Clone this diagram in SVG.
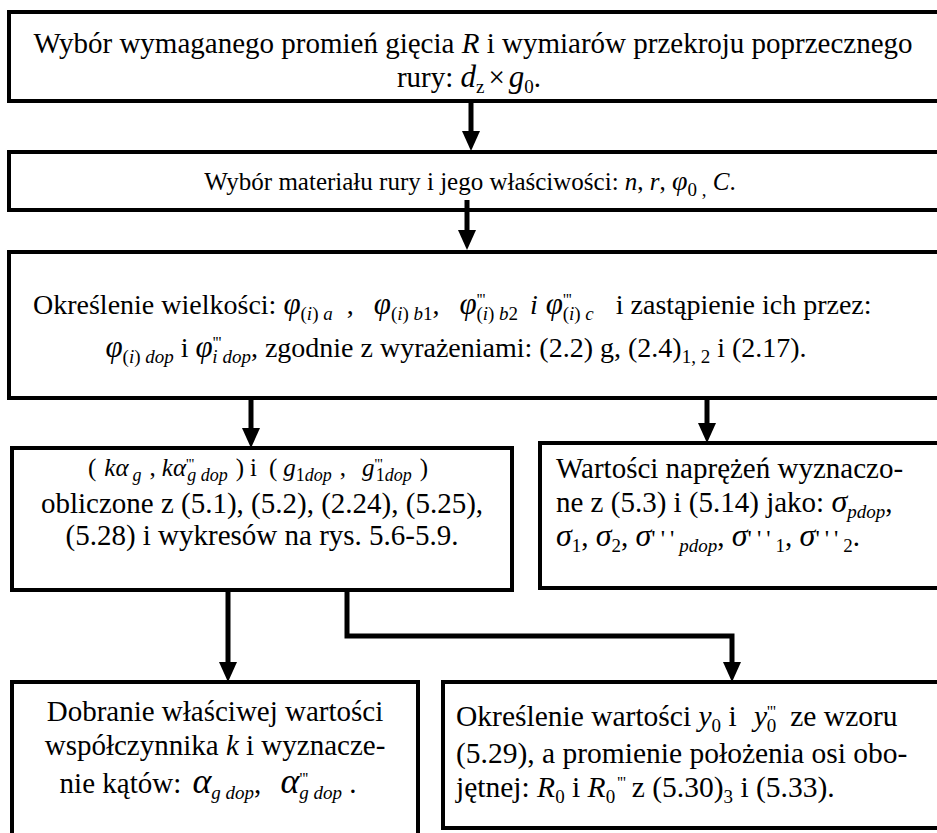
<svg xmlns="http://www.w3.org/2000/svg" width="937" height="833" viewBox="0 0 937 833">
<style>
.box{fill:#fff;stroke:#000;stroke-width:4}
.t{font-family:"Liberation Serif","Times New Roman",serif;font-size:28px;fill:#000}
.t29{font-size:29px}
.t24{font-size:25px}
.t30{font-size:29.5px}
.m{font-size:25px}
.it{font-style:italic}
.g{font-size:31px;font-style:italic}
.gs{font-size:32px;font-style:italic}
.sub{font-size:19px;baseline-shift:-6px}
.sup{font-size:16px;baseline-shift:9px}
.sub2{font-size:18px;baseline-shift:-5px}
.sup2{font-size:15px;baseline-shift:7px}
.pr{font-size:24px;letter-spacing:5px}
.big{font-size:36px}
.cn{fill:none;stroke:#000;stroke-width:5}
</style>
<defs>
<marker id="ah" markerUnits="userSpaceOnUse" markerWidth="20" markerHeight="18" viewBox="0 0 20 18" refX="0" refY="9" orient="auto">
<path d="M0,0 L20,9 L0,18 z" fill="#000"/>
</marker>
</defs>
<rect width="937" height="833" fill="#fff"/>

<g id="n1">
<rect class="box" x="9" y="12" width="940" height="89"/>
<text class="t t29" x="473" y="53" text-anchor="middle">Wybór wymaganego promień gięcia <tspan class="it">R</tspan> i wymiarów przekroju poprzecznego</text>
<text class="t t29" x="469" y="87" text-anchor="middle">rury: <tspan class="it" font-size="31">d</tspan><tspan class="sub">z</tspan><tspan dx="4">×</tspan><tspan class="it" dx="4" font-size="31">g</tspan><tspan class="sub">0</tspan>.</text>
</g>

<g id="n2">
<rect class="box" x="9" y="152" width="940" height="58"/>
<text class="t t24" x="470" y="190" text-anchor="middle">Wybór materiału rury i jego właściwości: <tspan class="it">n</tspan>, <tspan class="it">r</tspan>, <tspan class="it" font-size="28">φ</tspan><tspan class="sub" font-size="17">0 ,</tspan> <tspan class="it">C</tspan>.</text>
</g>

<g id="n3">
<rect class="box" x="9" y="252" width="940" height="146"/>
<text class="t" x="33" y="314">Określenie wielkości: <tspan class="g">φ</tspan><tspan class="sub">(<tspan class="it">i</tspan>) <tspan class="it">a</tspan></tspan><tspan dx="14">,</tspan><tspan class="g" dx="20">φ</tspan><tspan class="sub">(<tspan class="it">i</tspan>) <tspan class="it">b</tspan>1</tspan>,<tspan class="g" dx="20">φ</tspan><tspan class="sup">'''</tspan><tspan class="sub" dx="-9">(<tspan class="it">i</tspan>) <tspan class="it">b</tspan>2</tspan><tspan class="it" dx="12">i</tspan><tspan class="g" dx="8">φ</tspan><tspan class="sup">'''</tspan><tspan class="sub" dx="-9">(<tspan class="it">i</tspan>) <tspan class="it">c</tspan></tspan><tspan dx="22">i zastąpienie ich przez:</tspan></text>
<text class="t" x="456" y="357" text-anchor="middle"><tspan class="g">φ</tspan><tspan class="sub">(<tspan class="it">i</tspan>) <tspan class="it">dop</tspan></tspan> i <tspan class="g">φ</tspan><tspan class="sup">'''</tspan><tspan class="sub it" dx="-9">i dop</tspan>, zgodnie z wyrażeniami: (2.2) g, (2.4)<tspan class="sub">1, 2</tspan> i (2.17).</text>
</g>

<g id="n4">
<rect class="box" x="12" y="448" width="500" height="142"/>
<text class="t m" x="258" y="476" text-anchor="middle">(<tspan class="it" dx="8">kα</tspan><tspan class="sub2 it" dx="4">g</tspan><tspan dx="8">,</tspan><tspan class="it" dx="6">kα</tspan><tspan class="sup2">'''</tspan><tspan class="sub2 it" dx="-7">g dop</tspan><tspan dx="8">)</tspan><tspan dx="6">i</tspan><tspan dx="12">(</tspan><tspan class="it" dx="6">g</tspan><tspan class="sub2">1<tspan class="it">dop</tspan></tspan><tspan dx="8">,</tspan><tspan class="it" dx="16">g</tspan><tspan class="sup2">'''</tspan><tspan class="sub2" dx="-7">1<tspan class="it">dop</tspan></tspan><tspan dx="8">)</tspan></text>
<text class="t t29" x="262" y="513" text-anchor="middle">obliczone z (5.1), (5.2), (2.24), (5.25),</text>
<text class="t t29" x="262" y="545" text-anchor="middle">(5.28) i wykresów na rys. 5.6-5.9.</text>
</g>

<g id="n5">
<rect class="box" x="540" y="443" width="400" height="145"/>
<text class="t t29" x="556" y="478">Wartości naprężeń wyznaczo-</text>
<text class="t t29" x="556" y="512">ne z (5.3) i (5.14) jako: <tspan class="gs">σ</tspan><tspan class="sub it">pdop</tspan>,</text>
<text class="t t29" x="556" y="546"><tspan class="gs">σ</tspan><tspan class="sub">1</tspan>, <tspan class="gs">σ</tspan><tspan class="sub">2</tspan>, <tspan class="gs">σ</tspan><tspan class="pr">'''</tspan><tspan class="sub it">pdop</tspan>, <tspan class="gs">σ</tspan><tspan class="pr">'''</tspan><tspan class="sub">1</tspan>, <tspan class="gs">σ</tspan><tspan class="pr">'''</tspan><tspan class="sub">2</tspan>.</text>
</g>

<g id="n6">
<rect class="box" x="12" y="682" width="406" height="170"/>
<text class="t t29" x="215" y="721" text-anchor="middle">Dobranie właściwej wartości</text>
<text class="t t29" x="215" y="755" text-anchor="middle">współczynnika <tspan class="it">k</tspan> i wyznacze-</text>
<text class="t t29" x="208" y="793" text-anchor="middle">nie kątów: <tspan class="it big" dx="4">α</tspan><tspan class="sub it">g dop</tspan>, <tspan class="it big" dx="12">α</tspan><tspan class="sup">'''</tspan><tspan class="sub it" dx="-9">g dop</tspan> .</text>
</g>

<g id="n7">
<rect class="box" x="443" y="682" width="497" height="146"/>
<text class="t t30" x="456" y="726">Określenie wartości <tspan class="it">y</tspan><tspan class="sub">0</tspan> i <tspan class="it" dx="10">y</tspan><tspan class="sup">'''</tspan><tspan class="sub" dx="-9">0</tspan><tspan dx="14">ze wzoru</tspan></text>
<text class="t t30" x="456" y="763">(5.29), a promienie położenia osi obo-</text>
<text class="t t30" x="456" y="797">jętnej: <tspan class="it">R</tspan><tspan class="sub">0</tspan> i <tspan class="it">R</tspan><tspan class="sub">0</tspan><tspan class="sup" dx="2">'''</tspan><tspan dx="6">z (5.30)</tspan><tspan class="sub">3</tspan> i (5.33).</text>
</g>

<g id="connectors">
<path class="cn" d="M471,101 V131" marker-end="url(#ah)"/>
<path class="cn" d="M467,200 V230" marker-end="url(#ah)"/>
<path class="cn" d="M251,398 V428" marker-end="url(#ah)"/>
<path class="cn" d="M707,398 V423" marker-end="url(#ah)"/>
<path class="cn" d="M228,590 V662" marker-end="url(#ah)"/>
<path class="cn" d="M347,590 V636 H732 V662" marker-end="url(#ah)"/>
</g>
</svg>
